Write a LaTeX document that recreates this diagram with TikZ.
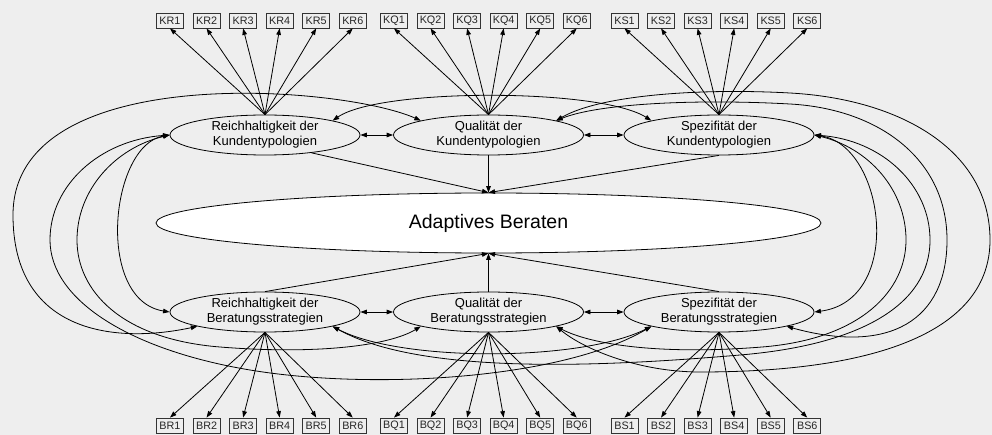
\documentclass[tikz,border=0pt]{standalone}
\usepackage{fontspec}
\setmainfont{Liberation Sans}
\usetikzlibrary{arrows.meta,shapes.geometric}
\definecolor{bg}{HTML}{EEEEEE}
\definecolor{boxline}{HTML}{333333}
\begin{document}
\begin{tikzpicture}[x=1pt,y=-1pt,
  >={Triangle[length=6.5pt,width=4.6pt]},
  line/.style={line width=0.8pt, draw=black},
  arr/.style={line, ->},
  cov/.style={line, <->},
  factor/.style={ellipse, draw, line width=0.8pt, minimum width=190pt,
    minimum height=40pt, inner sep=0pt, align=center,
    font=\fontsize{13}{15}\selectfont},
  target/.style={ellipse, draw, fill=white, line width=0.8pt,
    minimum width=665pt, minimum height=60pt, inner sep=0pt,
    font=\fontsize{19.5}{22}\selectfont},
  ind/.style={rectangle, draw=boxline, line width=0.8pt, minimum width=27pt,
    minimum height=15pt, inner sep=0pt, text=black!85,
    font=\fontsize{10.8}{12}\selectfont}]

\useasboundingbox (0,0) rectangle (992,435);
\fill[bg] (0,0) rectangle (992,435);

% latent factors
\node[factor] (KR) at (265,135)   {Reichhaltigkeit der\\Kundentypologien};
\node[factor] (KQ) at (488.5,135) {Qualität der\\Kundentypologien};
\node[factor] (KS) at (719,135)   {Spezifität der\\Kundentypologien};
\node[factor] (BR) at (265,312)   {Reichhaltigkeit der\\Beratungsstrategien};
\node[factor] (BQ) at (488.5,312) {Qualität der\\Beratungsstrategien};
\node[factor] (BS) at (719,312)   {Spezifität der\\Beratungsstrategien};
\node[target] (AB) at (488.5,223) {Adaptives Beraten};

% indicators and loadings
\foreach \g/\x in {KR/170, KQ/394, KS/624.5} {
  \foreach \i in {1,...,6} {
    \node[ind] (\g\i) at ({\x+36.55*(\i-1)},20.5) {\g\i};
    \draw[arr] (\g.north) -- (\g\i.south);
  }
}
\foreach \g/\x in {BR/170, BQ/394, BS/624.5} {
  \foreach \i in {1,...,6} {
    \node[ind] (\g\i) at ({\x+36.55*(\i-1)},425.5) {\g\i};
    \draw[arr] (\g.south) -- (\g\i.north);
  }
}

% regressions on the outcome
\draw[arr] (KR.-21) -- (AB.north);
\draw[arr] (KQ.south) -- (AB.north);
\draw[arr] (KS.south) -- (AB.north);
\draw[arr] (BR.north) -- (AB.south);
\draw[arr] (BQ.north) -- (AB.south);
\draw[arr] (BS.north) -- (AB.south);

% covariances between neighbours
\draw[cov] (KR.east) -- (KQ.west);
\draw[cov] (KQ.east) -- (KS.west);
\draw[cov] (BR.east) -- (BQ.west);
\draw[cov] (BQ.east) -- (BS.west);

% covariances across the row
\draw[cov] (KR.12) .. controls (380,88) and (600,88) .. (KS.168);
\draw[cov] (BR.-12) .. controls (400,362) and (580,362) .. (BS.-168);

% covariances around the left side
\draw[cov] (KR.west) .. controls (110,145) and (95,300) .. (BR.west);
\draw[cov] (KR.west) .. controls (115,148) and (77,190) .. (77,240)
  .. controls (77,290) and (120,339) .. (220,347)
  .. controls (320,355) and (390,345) .. (BQ.-168);
\draw[cov] (KR.west) .. controls (100,140) and (50,185) .. (50,240)
  .. controls (50,300) and (130,350) .. (250,370)
  .. controls (370,390) and (560,380) .. (BS.-168);
\draw[cov] (KQ.168) .. controls (340,85) and (13,60) .. (13,215)
  .. controls (13,330) and (110,345) .. (BR.-168);

% covariances around the right side
\draw[cov] (KS.east) .. controls (885,145) and (905,300) .. (BS.east);
\draw[cov] (KS.east) .. controls (869,148) and (906,190) .. (906,240)
  .. controls (906,290) and (862,339) .. (762,347)
  .. controls (662,355) and (592,345) .. (BQ.-12);
\draw[cov] (KS.east) .. controls (882,140) and (930,185) .. (930,240)
  .. controls (930,305) and (860,345) .. (740,355)
  .. controls (600,367) and (420,375) .. (BR.-12);
\draw[cov] (KQ.12) .. controls (600,103) and (700,99) .. (790,104)
  .. controls (880,109) and (947,160) .. (947,240)
  .. controls (947,320) and (890,355) .. (BS.-12);
\draw[cov] (KQ.12) .. controls (600,95) and (700,88) .. (790,93)
  .. controls (900,99) and (990,150) .. (990,240)
  .. controls (990,330) and (880,372) .. (700,372)
  .. controls (640,372) and (585,350) .. (BQ.-12);

\end{tikzpicture}
\end{document}
